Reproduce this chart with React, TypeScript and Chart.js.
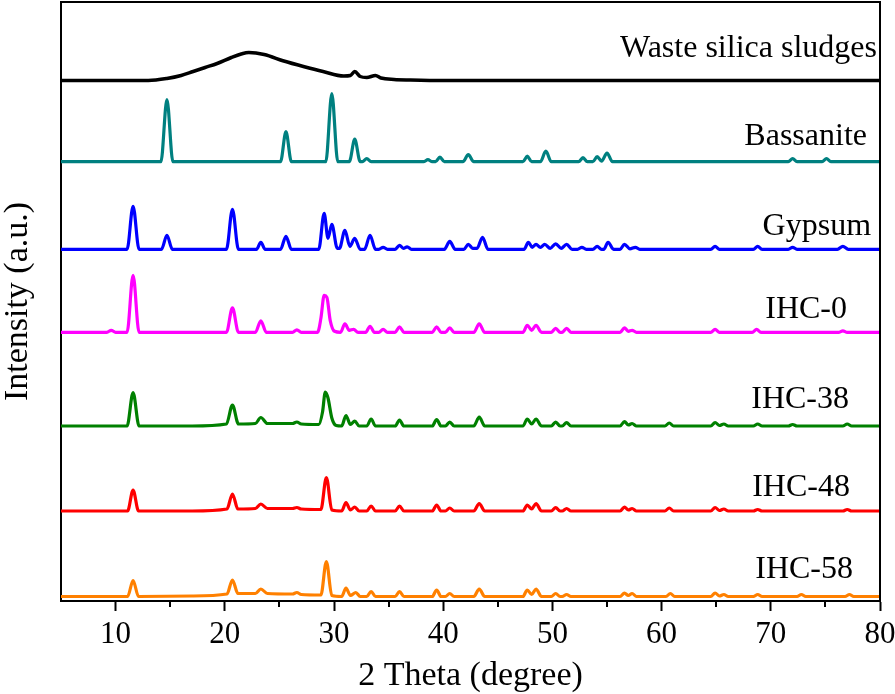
import React, { useEffect, useRef } from "react";
import { Chart, registerables } from "chart.js";

Chart.register(...registerables);

// Series names (top to bottom) and colours
const SERIES_NAMES = ["Waste silica sludges", "Bassanite", "Gypsum", "IHC-0", "IHC-38", "IHC-48", "IHC-58"];
const SERIES_COLORS = ["#000000", "#008080", "#0000ff", "#ff00ff", "#008000", "#ff0000", "#ff8000"];
// vertical stacking offsets (a.u.)
const SERIES_OFFSETS = [517.5, 436.3, 348.7, 265.7, 172, 87, 1.5];

// Patterns: [2theta, relative intensity (a.u.)]
const WASTE = [[5,0],[13,0],[14.7,2],[16,5],[17.1,9],[18.2,13],[19.3,17],[20.6,23],[21.5,26.5],[22.2,28],[23.6,26],[25.4,19.5],[27.2,14],[29,9],[30.9,4.5],[31.5,5],[31.9,9],[32.4,4],[33.0,3],[33.8,5],[34.3,2.5],[35.5,1],[37,0.5],[40,0],[80,0]];

const BASSANITE = [[5,0],[14.15,0],[14.7,62],[15.25,0],[25.1,0],[25.6,30],[26.1,0],[29.25,0],[29.8,68],[30.35,0],[31.4,0],[31.9,22.5],[32.4,0],[32.6,0],[33.0,3],[33.4,0],[38.2,0],[38.6,2],[39.0,0],[39.3,0],[39.7,4.5],[40.1,0],[41.8,0],[42.3,7],[42.8,0],[47.3,0],[47.7,5.5],[48.1,0],[48.9,0],[49.4,10.5],[49.9,0],[52.4,0],[52.8,4],[53.2,0],[53.7,0],[54.1,5],[54.5,0.5],[55.0,8.5],[55.5,0],[71.6,0],[72.0,3],[72.4,0],[74.7,0],[75.1,3],[75.5,0],[80,0]];

const GYPSUM = [[5,0],[11.05,0],[11.6,43],[12.15,0],[14.2,0],[14.7,14],[15.2,0],[20.15,0],[20.7,40],[21.25,0],[22.9,0],[23.3,7],[23.7,0],[25.1,0],[25.6,13],[26.1,0],[28.6,0],[29.1,36],[29.45,11],[29.8,25],[30.3,1],[30.5,1],[31.0,19],[31.45,3],[31.9,11],[32.4,0],[32.8,0],[33.3,14],[33.8,0],[34.1,0],[34.5,2],[34.9,0],[35.6,0],[36.0,4],[36.35,1],[36.7,2.5],[37.1,0],[40.1,0],[40.6,8],[41.1,0],[41.9,0],[42.3,5],[42.7,1],[43.1,1],[43.6,12],[44.1,0],[47.4,0],[47.8,7],[48.15,2],[48.5,5],[48.9,2],[49.3,5],[49.8,1],[50.3,5.5],[50.8,1],[51.3,5],[51.8,0],[52.3,0],[52.7,2],[53.1,0],[53.7,0],[54.1,3],[54.5,0],[54.7,0],[55.1,7],[55.6,0],[56.2,0],[56.6,5],[57.1,0.5],[57.6,2],[58.0,0],[64.5,0],[64.9,3],[65.3,0],[68.4,0],[68.8,3],[69.2,0],[71.6,0],[72,2],[72.4,0],[76.1,0],[76.6,3],[77.1,0],[80,0]];

const IHC0 = [[5,0],[9.2,0],[9.6,2],[10.0,0],[11.05,0],[11.6,57],[12.15,0],[20.15,0],[20.7,24.5],[21.25,0],[22.8,0],[23.3,11.5],[23.8,0],[26.2,0],[26.6,2.5],[27.0,0],[28.5,0],[28.8,14],[29.1,37],[29.35,35],[29.65,12],[30.05,1],[30.6,0],[31.0,8.5],[31.4,2],[31.8,3],[32.2,0],[32.9,0],[33.3,6],[33.7,0],[34.1,0],[34.5,3],[34.9,0],[35.6,0],[36.0,5.5],[36.4,0],[39.0,0],[39.4,5.5],[39.8,0],[40.2,0],[40.6,4.5],[41.0,0],[42.8,0],[43.3,8.5],[43.8,0],[47.3,0],[47.7,7],[48.1,2],[48.5,7],[49.0,0],[49.9,0],[50.3,4],[50.7,0],[50.9,0],[51.3,4],[51.7,0],[56.2,0],[56.6,4.5],[56.95,1],[57.3,2],[57.7,0],[64.5,0],[64.9,3],[65.3,0],[68.3,0],[68.7,3],[69.1,0],[76.2,0],[76.6,1.5],[77.0,0],[80,0]];

const IHC38 = [[5,0],[11.05,0],[11.6,33.5],[12.15,0],[17,0],[20.15,2],[20.7,21],[21.25,2],[22.8,2.5],[23.3,8.5],[23.9,2.5],[26.2,2.5],[26.6,4],[27.0,2],[28.6,1.5],[28.95,14],[29.2,34],[29.45,28],[29.8,8],[30.2,0.5],[30.7,0],[31.1,10.5],[31.5,1.5],[31.9,5],[32.3,0],[33.0,0],[33.4,7],[33.8,0],[35.6,0],[36.0,6],[36.4,0],[39.0,0],[39.4,6.5],[39.8,0],[40.2,0],[40.6,4],[41.0,0],[42.8,0],[43.3,9],[43.8,0],[47.3,0],[47.7,7],[48.1,2],[48.5,7],[49.0,0],[49.9,0],[50.3,4],[50.7,0],[50.9,0],[51.3,3.5],[51.7,0],[56.2,0],[56.6,4.5],[56.95,1],[57.3,2.5],[57.7,0],[60.3,0],[60.7,3],[61.1,0],[64.5,0],[64.9,3.5],[65.3,0.5],[65.7,2],[66.1,0],[68.4,0],[68.8,2],[69.2,0],[71.6,0],[72,1.5],[72.4,0],[76.6,0],[77,2],[77.4,0],[80,0]];

const IHC48 = [[5,0],[11.1,0],[11.6,21],[12.1,0],[17,0],[20.2,2],[20.7,17],[21.2,2],[22.8,2.5],[23.3,7],[23.9,2.5],[26.2,2.5],[26.6,3.5],[27.0,2],[28.8,1.5],[29.3,33.5],[29.8,1],[30.7,0],[31.1,8.5],[31.5,1],[31.9,4],[32.3,0],[33.0,0],[33.4,5],[33.8,0],[35.6,0],[36.0,5],[36.4,0],[39.0,0],[39.4,6],[39.8,0],[40.2,0],[40.6,3],[41.0,0],[42.8,0],[43.3,7.5],[43.8,0],[47.3,0],[47.7,6],[48.1,2],[48.5,7.5],[49.0,0],[49.9,0],[50.3,3.5],[50.7,0],[50.9,0],[51.3,2.5],[51.7,0],[56.2,0],[56.6,4],[56.95,1],[57.3,2.5],[57.7,0],[60.3,0],[60.7,3],[61.1,0],[64.5,0],[64.9,3.5],[65.3,0.5],[65.7,2],[66.1,0],[68.4,0],[68.8,1.5],[69.2,0],[76.6,0],[77,1.5],[77.4,0],[80,0]];

const IHC58 = [[5,0],[11.1,0],[11.6,16],[12.1,0],[17,0.5],[20.2,2.5],[20.7,16.5],[21.2,3],[22.8,3],[23.3,7.5],[23.9,3],[26.2,2.5],[26.6,4],[27.0,2],[28.8,1.5],[29.3,35],[29.8,1],[30.7,0],[31.1,8.5],[31.5,1],[32.0,4],[32.4,0],[33.0,0],[33.4,5],[33.8,0],[35.6,0],[36.0,5],[36.4,0],[39.0,0],[39.4,6.5],[39.8,0],[40.2,0],[40.6,3],[41.0,0],[42.8,0],[43.3,7.5],[43.8,0],[47.3,0],[47.7,6.5],[48.1,2],[48.5,7.5],[49.0,0],[49.9,0],[50.3,3],[50.7,0],[50.9,0],[51.3,2],[51.7,0],[56.2,0],[56.6,3.5],[56.95,1],[57.3,3],[57.7,0],[60.4,0],[60.8,3],[61.2,0],[64.5,0],[64.9,3.5],[65.3,0.5],[65.7,2],[66.1,0],[68.4,0],[68.8,2],[69.2,0],[72.4,0],[72.8,2],[73.2,0],[76.8,0],[77.2,2],[77.6,0],[80,0]];

const PATTERNS = [WASTE, BASSANITE, GYPSUM, IHC0, IHC38, IHC48, IHC58];

// Label anchors (right edge x in 2theta, baseline y in a.u.)
const LABEL_X = [79.72, 78.81, 79.18, 76.98, 77.16, 77.25, 77.53];
const LABEL_Y = [541, 453, 363, 280, 190, 102, 20];

const X_MIN = 5;
const X_MAX = 80;
const X_STEP = 5;
const X_LABEL_STEP = 10;
const Y_MIN = -3;
const Y_MAX = 596;

const FONT = '"Liberation Serif", "Times New Roman", serif';

export default function App() {
  const ref = useRef<HTMLCanvasElement | null>(null);

  useEffect(() => {
    if (!ref.current) return;
    const datasets = PATTERNS.map((pat, i) => ({
      label: SERIES_NAMES[i],
      data: pat.map(([x, y]) => ({ x, y: y + SERIES_OFFSETS[i] })),
      borderColor: SERIES_COLORS[i],
      backgroundColor: SERIES_COLORS[i],
      borderWidth: i === 0 ? 3.5 : 3.2,
      pointRadius: 0,
      cubicInterpolationMode: "monotone" as const,
      fill: false,
      clip: false as any,
    }));

    const isMajor = (v: number) => Math.abs(v % X_LABEL_STEP) < 1e-9;

    const framePlugin = {
      id: "frameAndLabels",
      afterDatasetsDraw(chart: any) {
        const { ctx, chartArea, scales } = chart;
        ctx.save();
        ctx.strokeStyle = "#000";
        ctx.lineWidth = 2;
        ctx.beginPath();
        ctx.moveTo(chartArea.left, chartArea.top);
        ctx.lineTo(chartArea.right, chartArea.top);
        ctx.lineTo(chartArea.right, chartArea.bottom);
        ctx.stroke();
        // minor ticks
        ctx.beginPath();
        scales.x.ticks.forEach((t: any) => {
          if (!isMajor(t.value) && t.value > X_MIN) {
            const px = Math.round(scales.x.getPixelForValue(t.value));
            ctx.moveTo(px, chartArea.bottom);
            ctx.lineTo(px, chartArea.bottom + 6);
          }
        });
        ctx.stroke();
        ctx.fillStyle = "#000";
        ctx.font = `32px ${FONT}`;
        ctx.textAlign = "right";
        ctx.textBaseline = "alphabetic";
        SERIES_NAMES.forEach((name, i) => {
          ctx.fillText(name, scales.x.getPixelForValue(LABEL_X[i]), scales.y.getPixelForValue(LABEL_Y[i]));
        });
        ctx.restore();
      },
    };

    const chart = new Chart(ref.current, {
      type: "line",
      data: { datasets },
      options: {
        animation: false,
        responsive: false,
        layout: { padding: { top: 2, right: 15, left: 0, bottom: 0 } },
        plugins: { legend: { display: false }, tooltip: { enabled: false } },
        scales: {
          x: {
            type: "linear",
            min: X_MIN,
            max: X_MAX,
            afterFit: (s: any) => { s.height = 93; s.paddingLeft = 0; s.paddingRight = 0; },
            ticks: {
              stepSize: X_STEP,
              autoSkip: false,
              maxRotation: 0,
              padding: 5,
              color: "#000",
              font: { family: FONT, size: 31 },
              callback: (v: any) => (isMajor(Number(v)) ? String(v) : ""),
            },
            grid: {
              display: true,
              drawOnChartArea: false,
              drawTicks: true,
              tickLength: 10,
              tickWidth: 2,
              tickColor: (c: any) => (c.tick && isMajor(c.tick.value) && c.tick.value > X_MIN ? "#000" : "rgba(0,0,0,0)"),
            },
            border: { display: true, color: "#000", width: 2 },
            title: { display: true, text: "2 Theta (degree)", color: "#000", font: { family: FONT, size: 34 }, padding: { top: 0, bottom: -2 } },
          },
          y: {
            type: "linear",
            min: Y_MIN,
            max: Y_MAX,
            afterFit: (s: any) => { s.width = 61; },
            ticks: { display: false },
            grid: { display: false },
            border: { display: true, color: "#000", width: 2 },
            title: { display: true, text: "Intensity (a.u.)", color: "#000", font: { family: FONT, size: 34 }, padding: { top: -2, bottom: 0 } },
          },
        },
      },
      plugins: [framePlugin],
    });
    return () => chart.destroy();
  }, []);

  return (
    <div style={{ position: "fixed", left: 0, top: 0, width: 895, height: 694, background: "#fff" }}>
      <canvas ref={ref} width={895} height={694} />
    </div>
  );
}
